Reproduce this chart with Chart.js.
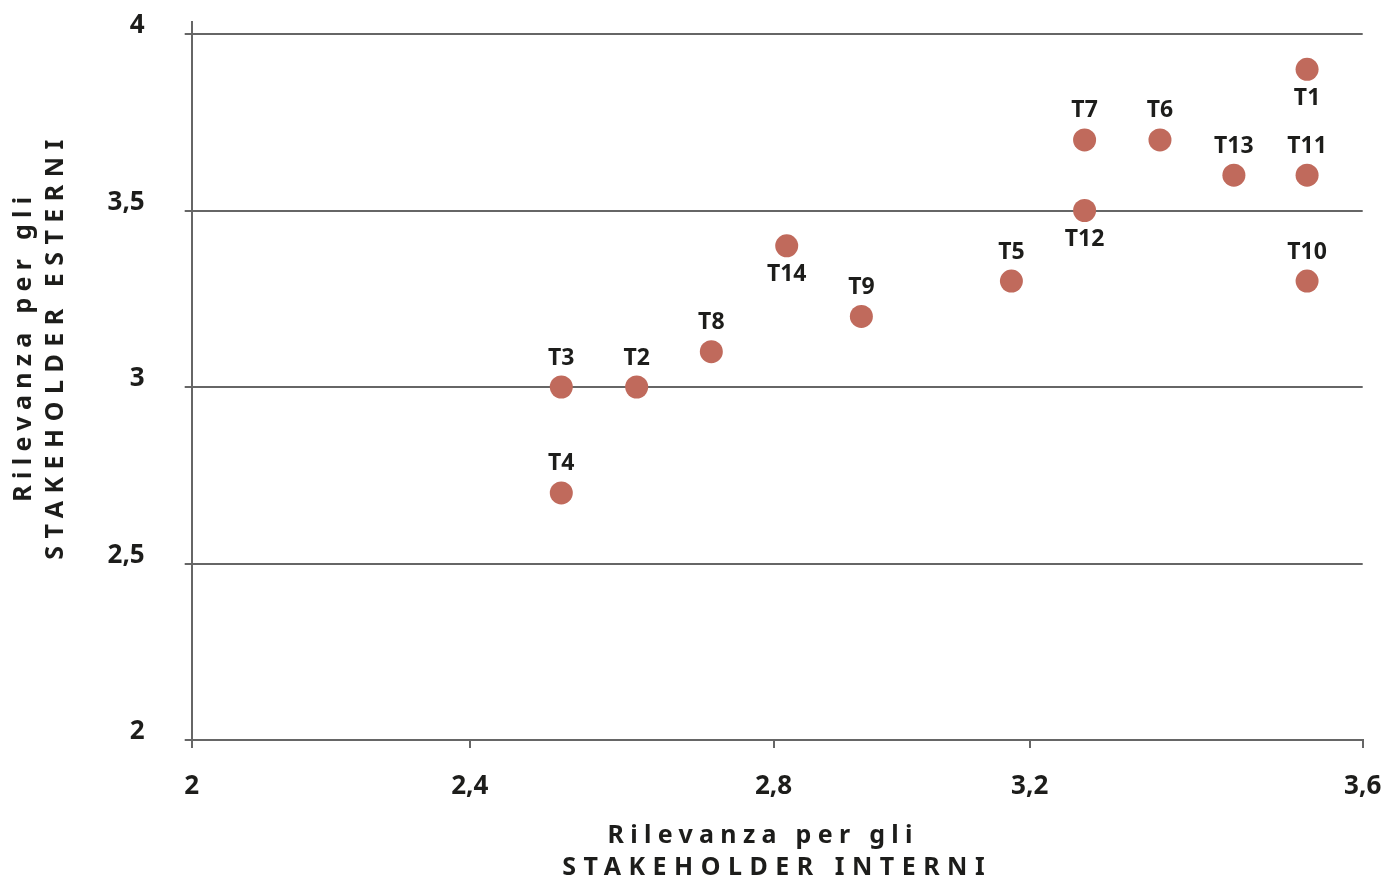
<!DOCTYPE html>
<html lang="it">
<head>
<meta charset="utf-8">
<title>Matrice di materialità</title>
<script src="https://cdn.jsdelivr.net/npm/chart.js@4.4.0/dist/chart.umd.min.js"></script>
<style>
  html, body { margin: 0; padding: 0; background: #fff; }
  #wrap { width: 1384px; height: 878px; position: relative; }
</style>
</head>
<body>
<div id="wrap"><canvas id="matrix"></canvas></div>
<script>
// Topics and scores
const topics = ['T1', 'T2', 'T3', 'T4', 'T5', 'T6', 'T7', 'T8', 'T9', 'T10', 'T11', 'T12', 'T13', 'T14'];
const internalScores = [3.524, 2.608, 2.505, 2.505, 3.12, 3.323, 3.22, 2.71, 2.915, 3.524, 3.524, 3.22, 3.424, 2.813];
const externalScores = [3.9, 3.0, 3.0, 2.7, 3.3, 3.7, 3.7, 3.1, 3.2, 3.3, 3.6, 3.5, 3.6, 3.4];

// The x labels in the reference sit unevenly along the axis, so keep their spots
const xTickValues = [2, 2.38, 2.795, 3.145, 3.6];
const xTickLabels = ['2', '2,4', '2,8', '3,2', '3,6'];
const yTickValues = [2, 2.5, 3, 3.5, 4];
const yTickLabels = ['2', '2,5', '3', '3,5', '4'];

const xTitle = ['Rilevanza per gli', 'STAKEHOLDER INTERNI'];
const yTitle = ['Rilevanza per gli', 'STAKEHOLDER ESTERNI'];

// Which labels go under their dot
const labelsBelow = ['T1', 'T12', 'T14'];

const FONT = '"Noto Sans", "DejaVu Sans", sans-serif';
const textColor = '#1d1d1b';
const lineColor = '#666666';
const dotColor = '#c06a5c';

// Draw the topic names next to each dot
const pointLabels = {
  id: 'pointLabels',
  afterDatasetsDraw(chart) {
    const ctx = chart.ctx;
    const meta = chart.getDatasetMeta(0);
    ctx.save();
    ctx.font = 'bold 23px ' + FONT;
    ctx.fillStyle = textColor;
    ctx.textAlign = 'center';
    ctx.textBaseline = 'middle';
    meta.data.forEach((pt, i) => {
      const dy = labelsBelow.includes(topics[i]) ? 29 : -29;
      ctx.fillText(topics[i], pt.x, pt.y + dy);
    });
    ctx.restore();
  }
};

// Letter-spaced two-line axis titles
const axisTitles = {
  id: 'axisTitles',
  afterDraw(chart) {
    const { ctx, chartArea } = chart;
    ctx.save();
    ctx.font = 'bold 25px ' + FONT;
    ctx.fillStyle = textColor;
    ctx.textAlign = 'center';
    ctx.textBaseline = 'middle';

    const cx = (chartArea.left + chartArea.right) / 2;
    ctx.letterSpacing = '6.3px';
    ctx.fillText(xTitle[0], cx - 14, chartArea.bottom + 96);
    ctx.letterSpacing = '7.5px';
    ctx.fillText(xTitle[1], cx, chartArea.bottom + 128);

    ctx.translate(40, 346);
    ctx.rotate(-Math.PI / 2);
    ctx.letterSpacing = '6.3px';
    ctx.fillText(yTitle[0], 0, -16);
    ctx.letterSpacing = '7.5px';
    ctx.fillText(yTitle[1], 0, 16);
    ctx.restore();
  }
};

// keep the plot box where the reference has it
function noScalePadding(axis) {
  axis.paddingTop = 0;
  axis.paddingBottom = 0;
  axis.paddingLeft = 0;
  axis.paddingRight = 0;
}

const ctx = document.getElementById('matrix').getContext('2d');
new Chart(ctx, {
  type: 'scatter',
  data: {
    datasets: [{
      data: topics.map((t, i) => ({ x: internalScores[i], y: externalScores[i] })),
      backgroundColor: dotColor,
      borderWidth: 0,
      pointRadius: 11.5,
      pointHoverRadius: 11.5
    }]
  },
  options: {
    responsive: true,
    maintainAspectRatio: false,
    animation: false,
    layout: {
      padding: { left: 41.7, top: 22, right: 21.3, bottom: 0 }
    },
    plugins: {
      legend: { display: false },
      tooltip: { enabled: false }
    },
    scales: {
      x: {
        type: 'linear',
        min: 2,
        max: 3.6,
        afterBuildTicks: axis => {
          axis.ticks = xTickValues.map(v => ({ value: v }));
        },
        afterFit: axis => {
          axis.height = 138;
          noScalePadding(axis);
        },
        grid: {
          drawOnChartArea: false,
          drawTicks: true,
          tickLength: 8,
          color: lineColor,
          lineWidth: 2
        },
        border: { display: true, color: lineColor, width: 2 },
        ticks: {
          padding: 23,
          color: textColor,
          font: { family: FONT, size: 26, weight: 'bold' },
          callback: (value, index) => xTickLabels[index]
        }
      },
      y: {
        type: 'linear',
        min: 2,
        max: 4.034,
        afterBuildTicks: axis => {
          axis.ticks = yTickValues.map(v => ({ value: v }));
        },
        afterFit: axis => {
          axis.width = 150;
          noScalePadding(axis);
        },
        grid: {
          drawTicks: true,
          tickLength: 7,
          color: lineColor,
          lineWidth: 2
        },
        border: { display: true, color: lineColor, width: 2 },
        ticks: {
          padding: 40,
          labelOffset: -8,
          color: textColor,
          font: { family: FONT, size: 26, weight: 'bold' },
          callback: (value, index) => yTickLabels[index]
        }
      }
    }
  },
  plugins: [pointLabels, axisTitles]
});
</script>
</body>
</html>
